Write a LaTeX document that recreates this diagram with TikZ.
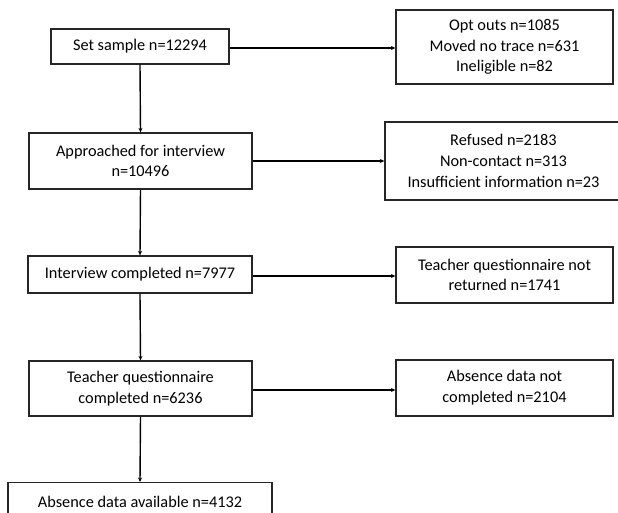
\documentclass[tikz,border=0pt]{standalone}
\usepackage{fontspec}
\setmainfont{Carlito}
\usetikzlibrary{arrows.meta}
\begin{document}
\begin{tikzpicture}[x=1pt,y=-1pt,
  box/.style={draw=black!85,line width=1.3pt,rectangle,align=center,inner sep=0pt,
    font=\fontsize{16.3}{20.7}\selectfont,text=black},
  arr/.style={draw=black,line width=1.4pt,-{Stealth[length=4.5pt,width=4pt]}}]
\clip (0,0) rectangle (618,513);
\fill[white] (0,0) rectangle (618,513);
% left column
\node[box,minimum width=178pt,minimum height=35pt] (b1) at (140,46.5) {Set sample n=12294};
\node[box,minimum width=223pt,minimum height=56pt] (b2) at (140.5,161) {Approached for interview\\n=10496};
\node[box,minimum width=224pt,minimum height=37pt] (b3) at (140,274.5) {Interview completed n=7977};
\node[box,minimum width=223pt,minimum height=55pt] (b4) at (140.5,388.5) {Teacher questionnaire\\completed n=6236};
\node[box,minimum width=264pt,minimum height=40pt,anchor=north] (b5) at (140,482) {};
\node[font=\fontsize{16.3}{20.7}\selectfont,inner sep=0pt] (b5t) at (140,502) {Absence data available n=4132};
% right column
\node[box,minimum width=217pt,minimum height=74pt] (r1) at (504.5,47) {Opt outs n=1085\\Moved no trace n=631\\Ineligible n=82};
\node[box,minimum width=237pt,minimum height=78pt] (r2) at (503.5,161) {Refused n=2183\\Non-contact n=313\\Insufficient information n=23};
\node[box,minimum width=217pt,minimum height=56pt] (r3) at (504.5,275) {Teacher questionnaire not\\returned n=1741};
\node[box,minimum width=217pt,minimum height=56pt] (r4) at (504.5,388) {Absence data not\\completed n=2104};
% vertical arrows
\draw[arr] (b1.south) -- (b2.north);
\draw[arr] (b2.south) -- (b3.north);
\draw[arr] (b3.south) -- (b4.north);
\draw[arr] (b4.south) -- (b5.north);
% horizontal arrows
\draw[arr] ([yshift=-1.5pt]b1.east) -- ([yshift=-1.5pt]b1.east -| r1.west);
\draw[arr] (b2.east) -- (b2.east -| r2.west);
\draw[arr] ([yshift=-1.5pt]b3.east) -- ([yshift=-1.5pt]b3.east -| r3.west);
\draw[arr] ([yshift=-1.5pt]b4.east) -- ([yshift=-1.5pt]b4.east -| r4.west);
\end{tikzpicture}
\end{document}
